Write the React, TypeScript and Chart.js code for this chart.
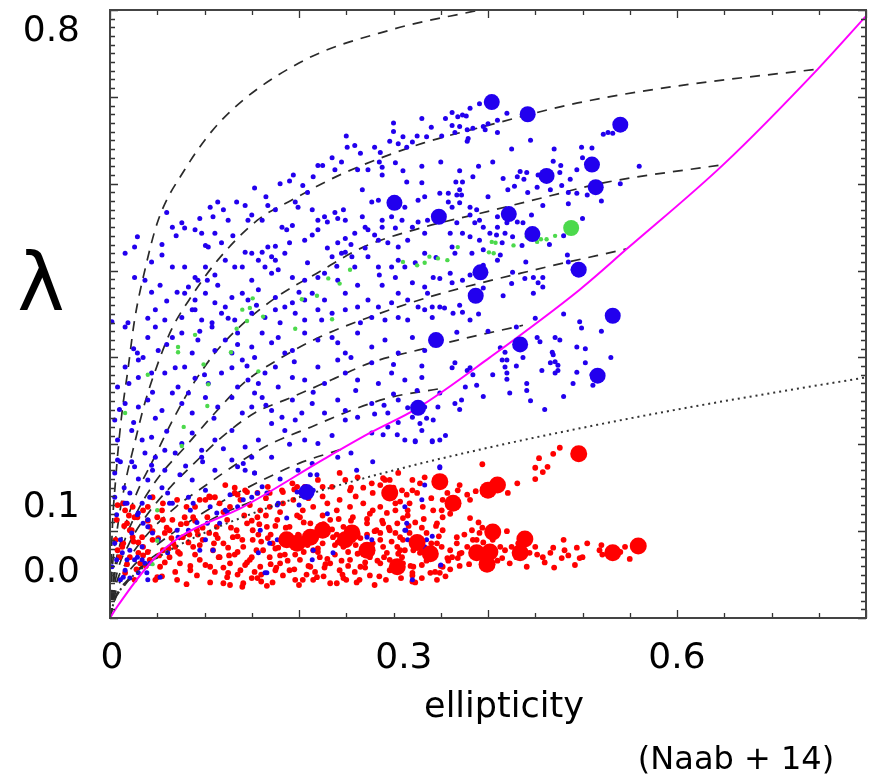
import React, { useEffect, useRef } from 'react';
import { Chart, registerables } from 'chart.js';

Chart.register(...registerables);

// ---------- axis labels (as printed on the figure) ----------
const xTickValues = [0.002, 0.311, 0.6];
const xTickLabels = ['0', '0.3', '0.6'];
const yTickValues = [0.052, 0.127, 0.675];
const yTickLabels = ['0.0', '0.1', '0.8'];
const xTitle = 'ellipticity';
const yTitle = 'λ';
const creditNote = '(Naab + 14)';

// ---------- scatter data: flat [ellipticity, lambda] pairs, in units of 0.001 ----------
const blueSmall = [
  259,544, 280,542, 296,549, 305,546, 310,554, 320,548, 325,555, 335,554, 286,536, 251,542, 314,542,
  220,521, 225,521, 238,516, 262,516, 273,516, 288,519, 302,524, 194,510, 190,503, 204,498, 267,493, 288,510, 314,502, 330,501,
  153,495, 209,490, 196,479, 199,473, 214,470, 238,467, 247,470, 249,458, 277,479, 284,481, 298,475, 312,473, 326,481, 333,485,
  114,479, 106,473, 134,479, 143,475, 150,464, 167,475, 175,470, 182,450, 220,458, 227,462, 241,460, 267,462, 270,450, 288,458,
  298,462, 309,458, 336,458, 60,467,
  66,450, 76,455, 79,449, 90,447, 97,443, 109,462, 111,443, 125,458, 146,458, 161,458, 187,447, 193,452, 220,447, 230,456,
  249,437, 259,443, 273,447, 280,441, 288,450, 302,449, 320,450, 326,456, 294,432, 305,427, 241,432, 101,429, 104,427, 118,432,
  29,439, 26,427, 55,418, 44,410, 143,421, 150,420, 161,421, 167,427, 175,428, 190,432, 206,435, 214,441, 230,426, 249,421,
  270,426, 284,435, 333,443,
  66,404, 79,404, 90,392, 101,404, 111,395, 122,412, 132,404, 140,404, 157,412, 171,416, 175,412, 164,404, 178,401, 193,392,
  209,409, 220,392, 227,397, 235,416, 245,420, 256,416, 259,404, 273,416, 284,404, 298,404, 305,412, 312,404, 323,409, 333,420,
  342,392, 53,383, 83,381, 93,389, 103,389, 114,383, 150,389, 171,397, 206,389, 241,389, 262,383, 288,383, 302,392, 320,386,
  333,381, 26,392, 37,389, 16,420,
  44,375, 71,375, 79,374, 90,366, 101,374, 111,363, 122,358, 129,369, 140,374, 146,366, 157,378, 175,369, 185,358, 193,363,
  206,366, 214,374, 227,366, 249,374, 262,358, 273,366, 284,358, 298,363, 305,374, 315,366, 326,358, 336,374, 19,340, 2,341,
  48,355, 58,343, 76,346, 87,355, 97,343, 108,340, 118,351, 132,343, 150,351, 164,346, 175,355, 196,351, 206,343, 224,343,
  235,351, 249,355, 277,346, 291,343, 305,346, 315,343, 333,355,
  48,335, 66,323, 76,328, 93,320, 108,335, 122,320, 135,328, 150,312, 161,328, 171,317, 178,323, 193,308, 206,328, 220,320,
  235,323, 249,305, 262,328, 277,312, 291,320, 305,305, 320,323, 333,308, 16,335, 29,305, 40,323, 51,308, 87,305, 111,308,
  129,305, 153,300, 185,305, 241,317,
  30,297, 44,282, 58,282, 69,288, 79,289, 90,276, 104,270, 118,282, 129,288, 140,297, 146,274, 164,282, 175,289, 193,277,
  206,274, 220,289, 241,297, 249,282, 262,274, 277,294, 298,282, 312,274, 330,277, 16,289, 8,266, 30,277, 72,266, 135,266,
  157,270, 178,266, 227,270, 284,270,
  16,247, 30,243, 40,251, 55,239, 66,259, 76,247, 87,236, 101,254, 114,243, 129,254, 140,236, 150,243, 161,254, 171,239,
  182,231, 193,251, 203,236, 214,247, 227,236, 241,251, 249,239, 262,231, 277,247, 294,236, 305,251, 320,231, 333,243,
  5,228, 48,230, 83,259, 153,259,
  8,205, 23,216, 34,205, 44,208, 58,193, 76,201, 87,213, 97,193, 111,205, 129,216, 143,197, 157,205, 171,224, 185,216,
  196,228, 206,205, 220,201, 249,228, 277,213, 294,220, 312,205, 330,216, 37,190,
  8,182, 26,174, 48,185, 58,170, 69,190, 87,159, 97,185, 111,170, 129,182, 135,174, 153,167, 171,185, 199,170, 214,178,
  241,185, 40,159, 5,167, 278,180, 349,174,
  5,139, 16,132, 30,121, 40,113, 66,132, 83,139, 101,147, 122,124, 135,128, 150,139, 161,151, 178,132, 312,128, 330,136,
  5,86, 13,75, 23,98, 34,82, 37,63, 51,90, 61,75, 72,93, 16,55, 30,52, 40,44, 26,67, 83,101, 101,90, 157,75, 164,52,
  214,67, 277,90, 312,101, 333,82, 320,44, 2,59, 11,44,
  362,582, 368,577, 373,579, 377,578, 381,587, 391,592, 362,567, 370,566, 378,562, 384,564, 395,566, 400,569, 410,573,
  420,581, 410,559, 379,552, 378,549, 365,559, 397,562, 351,555, 522,557, 527,559, 532,558, 499,542, 510,541,
  469,526, 477,521, 487,505, 494,516, 476,513, 453,510, 441,513, 434,514, 431,508, 416,506, 421,493, 428,497, 438,505,
  442,490, 452,496, 466,493, 485,490, 505,487, 494,489, 478,498,
  349,489, 358,489, 366,502, 367,487, 372,487, 358,479, 362,473, 370,478, 381,473, 388,470, 400,485, 410,462, 402,443,
  409,441, 418,443, 410,450, 420,455, 431,456, 437,455, 381,464, 386,455, 391,458, 395,450, 367,455, 360,443, 373,443,
  381,439, 391,435, 415,432, 426,439, 436,429, 446,464, 458,475, 485,477, 370,493, 373,502, 384,508,
  362,427, 365,420, 383,420, 395,424, 413,418, 410,412, 426,398, 439,391, 448,392, 453,386, 458,381, 395,406, 381,395,
  373,389, 360,397, 362,386, 349,391, 484,418, 485,410, 490,401, 458,392,
  370,360, 373,352, 363,351, 381,343, 383,369, 416,371, 448,374, 354,357, 349,358, 341,358, 341,346, 367,329, 365,294,
  362,288, 378,285, 381,288, 384,280, 388,268, 376,266, 349,259, 347,243, 365,247, 372,251, 413,311, 418,306, 415,297,
  420,297, 418,289, 420,282, 420,275, 423,259, 441,270, 441,262, 437,300, 452,323, 455,318, 457,285, 468,306, 469,303,
  471,295, 466,294, 474,291, 474,285, 471,282, 471,323, 476,320, 494,312, 503,310, 503,294, 494,283, 490,270, 511,268,
  497,341, 499,334, 342,228, 349,205, 341,204, 289,211, 304,211, 323,204, 315,242, 328,224,
  323,203, 341,203, 349,173, 333,153, 314,109, 313,101, 341,94, 335,90, 315,90, 350,61,
  11,180, 23,180, 44,176, 45,170, 74,165, 98,180, 143,170, 153,167, 141,178, 21,144, 34,132, 42,139, 61,144, 63,132,
  88,132, 85,124, 106,128, 113,121, 124,122, 127,142, 141,136, 156,144, 166,144, 177,130, 187,115, 198,145, 215,147,
  212,165, 219,165, 261,170, 18,132, 7,119, 29,119, 35,109, 40,105, 45,98, 71,101, 92,110, 103,109, 116,109, 159,101,
  177,90, 95,78, 109,78, 169,86, 215,78, 236,75, 247,92, 11,90, 21,78, 29,70, 34,67, 42,63, 39,52, 14,47, 21,46,
  53,47, 166,52, 272,93, 7,67, 18,67,
  235,530, 245,525, 215,508, 180,500, 165,485, 120,470, 95,460, 70,440, 55,430, 130,440, 185,420, 255,430, 315,435,
  345,415, 285,395, 240,405, 200,375, 155,360, 125,345, 95,330, 60,315, 35,300, 20,270, 45,260, 100,280, 145,290, 195,295,
  255,300, 300,292, 330,290, 265,340, 220,355, 180,340, 135,315, 90,355, 60,365, 40,345, 25,310, 10,240, 25,225, 60,215,
  110,230, 165,245, 215,260, 260,262, 300,258, 325,262, 290,245, 235,210, 190,200, 150,185, 120,195, 80,175, 55,150,
  30,160, 15,150, 180,160, 200,130, 230,120, 255,190, 280,235, 305,225, 335,230, 355,210, 370,240, 395,255, 405,280,
  430,290, 445,250, 460,240, 480,255, 510,280, 530,300, 520,330, 480,350, 450,345, 430,335, 400,330, 390,350, 395,380,
  425,385, 440,410, 465,430, 480,440, 500,460, 520,480, 540,500, 560,520, 500,530, 470,540, 445,550, 425,540, 405,525,
  390,520, 370,515, 350,525, 330,520, 310,515, 285,525, 265,535, 250,555, 300,560, 340,565, 355,575, 330,575, 300,570,
];

const redSmall = [
  394,177, 450,173, 463,174, 458,168, 454,184, 469,189, 476,196, 450,160, 431,155, 421,144, 370,153, 368,147, 378,142,
  387,146, 381,136, 357,144, 352,136, 351,124, 352,116, 328,155, 320,147, 314,142, 325,144, 289,161, 296,159, 286,153,
  309,147, 302,132, 302,124, 315,124, 310,115, 289,109, 286,98, 304,109, 323,110, 330,104, 352,101, 367,93, 383,101,
  394,104, 372,75, 368,69, 357,69, 352,59, 344,53, 330,61, 321,59, 346,86, 351,82, 360,78, 413,82, 418,78, 425,82,
  432,86, 444,75, 452,73, 458,70, 466,75, 469,81, 481,78, 494,81, 497,69, 492,61, 478,69, 441,59, 423,63, 415,69,
  518,78, 521,73, 545,82, 550,68, 529,73, 320,49, 323,41, 349,52, 370,60, 388,90, 391,98, 381,115, 286,90, 289,82,
  293,75, 296,67, 307,78, 309,70, 310,63, 328,75,
  122,153, 132,150, 145,145, 156,144, 169,144, 183,145, 198,151, 212,147, 225,151, 243,167, 254,147, 268,150, 278,144,
  45,139, 56,132, 71,136, 81,128, 95,136, 106,139, 116,132, 127,128, 138,136, 148,130, 159,124, 169,128, 183,132,
  194,136, 204,124, 215,128, 230,132, 243,136, 254,128, 268,132, 278,124, 35,124, 24,128, 14,132, 8,130,
  7,113, 18,109, 29,116, 42,105, 56,113, 63,101, 81,109, 92,101, 103,116, 113,105, 124,113, 134,101, 145,109, 156,116,
  166,105, 177,113, 190,105, 201,116, 212,109, 222,101, 233,113, 247,105, 257,116, 272,109, 282,101, 21,101, 50,116,
  88,116, 151,101,
  6,90, 14,86, 24,93, 35,82, 45,90, 56,78, 67,86, 77,93, 88,82, 98,90, 109,78, 120,86, 130,93, 141,82, 151,90, 162,78,
  172,86, 183,93, 194,82, 204,90, 215,78, 225,86, 236,93, 247,82, 257,90, 268,78, 278,86, 8,78, 30,87, 51,92, 72,76,
  93,96, 114,92, 135,76, 157,96, 178,81, 199,96, 220,76, 241,87, 262,96, 40,76, 83,87, 125,81, 167,92, 209,84, 252,76,
  21,70, 32,63, 42,67, 53,59, 63,70, 74,63, 85,55, 95,67, 106,59, 116,70, 127,63, 138,55, 148,67, 159,59, 169,70,
  180,63, 190,55, 201,67, 212,59, 222,70, 233,63, 243,55, 254,67, 265,59, 275,70, 69,53, 90,73, 111,53, 132,73, 153,53,
  175,55, 196,73, 217,53, 238,73, 259,53, 58,64, 101,61, 143,61, 185,73, 227,58, 270,64,
  50,47, 71,44, 92,49, 106,41, 124,47, 141,40, 156,46, 172,41, 183,49, 204,44, 219,47, 233,40, 247,46, 261,41, 275,49,
  127,38, 166,37, 81,39,
  16,124, 26,116, 40,128, 23,101, 34,93, 13,82, 30,75, 16,52, 26,44, 48,44, 55,124, 66,113, 58,98, 69,82, 79,116,
  90,128, 101,136, 111,139, 132,144, 143,147, 167,151, 182,147, 193,155, 206,151, 220,159, 235,151, 249,159, 262,162,
  277,155, 291,159, 305,167, 320,159, 333,162,
  286,128, 293,121, 299,139, 307,134, 317,132, 331,128, 342,124, 296,101, 307,93, 317,98, 335,98, 346,109, 304,82,
  321,78, 367,86, 378,82, 384,90, 395,87, 405,90, 286,63, 296,55, 307,55, 339,52,
  160,50, 170,62, 180,72, 190,88, 200,95, 210,60, 220,80, 230,68, 240,96, 250,44, 260,84, 270,58, 280,100, 290,70,
  300,64, 310,90, 320,52, 330,78, 340,86, 350,60, 165,118, 175,106, 185,96, 195,56, 205,110, 215,44, 225,118, 235,102,
  245,66, 255,112, 265,92, 275,120, 285,48, 295,104, 305,74, 315,118, 325,88, 335,66, 345,106, 355,48, 155,78, 145,64,
  135,94, 125,52, 115,70, 105,98, 95,84, 85,60, 75,108, 65,92, 55,48, 45,100, 35,72, 25,88, 15,106, 120,40, 140,36,
  160,42, 200,38, 240,40, 280,38, 320,42, 360,56, 370,74, 380,62, 390,110, 410,66, 420,100, 440,76, 460,64, 480,90,
  500,70, 520,84, 540,76, 105,140, 135,142, 165,138, 195,148, 225,140, 255,150,
  150,70, 175,80, 188,66, 205,76, 218,92, 228,62, 238,84, 252,60, 262,74, 272,96, 283,66, 298,88, 312,78, 318,60,
  336,72, 348,94, 358,66, 186,104, 198,118, 212,96, 226,108, 242,114, 258,100, 272,114, 288,112, 302,98, 316,106,
  332,114, 170,96, 158,108, 142,118, 128,104, 112,96, 98,104, 84,96, 74,74, 62,80, 52,72, 38,60, 28,56, 18,62, 10,70,
  120,58, 135,50, 150,46, 110,86, 126,72, 140,90, 160,88, 176,58, 196,44, 208,50, 226,48, 246,50, 264,44, 292,44, 308,46,
  330,46, 346,44, 362,70, 375,96, 400,78, 430,70, 450,82, 470,58, 485,72, 505,86, 360,120, 340,138, 300,150, 260,140,
  240,124, 210,138, 180,122, 150,112, 120,122, 90,112, 60,104, 40,112, 20,118,
];

const greenSmall = [
  310,410, 325,406, 333,409, 338,416, 347,414, 357,412, 368,427, 401,421, 404,433, 408,432, 406,420, 427,429, 441,439,
  452,433, 456,436, 462,436, 471,440, 254,401, 231,391, 243,385, 219,371, 203,367, 196,333, 235,344, 162,347, 148,357,
  140,355, 145,342, 134,333, 151,368, 90,326, 72,312, 72,306, 128,306, 99,292, 157,284, 104,269, 103,244, 78,220,
  76,198, 40,280, 16,236, 50,124, 50,89, 45,62,
];

const blueBig = [
  404,594, 442,580, 540,568, 510,522, 462,509, 514,496, 301,478, 348,462, 422,465, 447,442, 392,398, 496,401, 387,371,
  532,348, 345,320, 434,315, 516,279, 326,242, 208,145,
];
const greenBig = [488,449];
const redBig = [
  496,189, 349,157, 296,144, 400,147, 410,153, 363,132, 405,99, 439,91, 325,87, 339,74, 388,75, 402,76, 434,75, 399,62,
  304,59, 532,75, 559,83, 187,90, 225,101, 256,98, 249,90, 272,78, 198,86, 212,93,
];

// ---------- model curves: [ellipticity, lambda] ----------
const edgeOnLine = [
  [0, 0], [0.0074, 0.0127], [0.0455, 0.0668], [0.074, 0.0933], [0.141, 0.128], [0.225, 0.182], [0.275, 0.213],
  [0.326, 0.242], [0.402, 0.3], [0.497, 0.378], [0.547, 0.425], [0.649, 0.522], [0.749, 0.632], [0.8, 0.693],
];
const slowFastLine = [
  [0, 0], [0.005, 0.022], [0.01, 0.031], [0.02, 0.044], [0.04, 0.062], [0.07, 0.082], [0.1, 0.098], [0.15, 0.12],
  [0.2, 0.139], [0.3, 0.17], [0.4, 0.196], [0.5, 0.219], [0.6, 0.24], [0.7, 0.259], [0.8, 0.277],
];
const curveA = [
  [0, 0], [0.002, 0.09], [0.006, 0.16], [0.012, 0.23], [0.019, 0.286], [0.026, 0.343], [0.037, 0.401], [0.051, 0.458],
  [0.079, 0.516], [0.118, 0.573], [0.2, 0.639], [0.3, 0.678], [0.391, 0.7],
];
const curveB = [
  [0, 0], [0.002, 0.05], [0.008, 0.105], [0.016, 0.155], [0.026, 0.201], [0.037, 0.248], [0.051, 0.294], [0.065, 0.332],
  [0.086, 0.37], [0.114, 0.412], [0.156, 0.458], [0.192, 0.481], [0.247, 0.512], [0.332, 0.547], [0.389, 0.564],
  [0.495, 0.593], [0.597, 0.612], [0.749, 0.632],
];
const curveC = [
  [0, 0], [0.004, 0.05], [0.012, 0.09], [0.025, 0.135], [0.047, 0.185], [0.065, 0.225], [0.086, 0.266], [0.111, 0.305],
  [0.142, 0.34], [0.177, 0.37], [0.219, 0.397], [0.268, 0.427], [0.332, 0.45], [0.392, 0.466], [0.462, 0.485],
  [0.522, 0.501], [0.649, 0.522],
];
const curveD = [
  [0, 0], [0.005, 0.05], [0.015, 0.088], [0.03, 0.125], [0.05, 0.16], [0.082, 0.2], [0.111, 0.236], [0.142, 0.271],
  [0.177, 0.297], [0.223, 0.324], [0.276, 0.347], [0.339, 0.37], [0.45, 0.401], [0.547, 0.425],
];
const curveE = [
  [0, 0], [0.006, 0.045], [0.02, 0.085], [0.04, 0.12], [0.065, 0.152], [0.089, 0.178], [0.118, 0.208], [0.153, 0.236],
  [0.192, 0.254], [0.234, 0.274], [0.276, 0.294], [0.328, 0.309], [0.368, 0.32], [0.437, 0.337],
];
const curveF = [
  [0, 0], [0.006, 0.037], [0.02, 0.068], [0.04, 0.097], [0.07, 0.128], [0.103, 0.154], [0.135, 0.178], [0.171, 0.201],
  [0.213, 0.22], [0.255, 0.239], [0.297, 0.254], [0.349, 0.264],
];
const curveG = [
  [0, 0], [0.006, 0.03], [0.02, 0.054], [0.045, 0.08], [0.08, 0.108], [0.12, 0.135], [0.16, 0.158], [0.2, 0.178],
  [0.25, 0.196],
];
const curveH = [
  [0, 0], [0.005, 0.022], [0.02, 0.045], [0.045, 0.07], [0.08, 0.095], [0.115, 0.118], [0.15, 0.134],
];
const curveI = [[0, 0], [0.004, 0.018], [0.015, 0.037], [0.03, 0.055], [0.05, 0.07]];

const inclinationCurves = [curveA, curveB, curveC, curveD, curveE, curveF, curveG, curveH, curveI];

// ---------- helpers ----------
const FONT = '"DejaVu Sans", sans-serif';
const BLUE = '#2200ee';
const RED = '#ff0000';
const GREEN = '#4cd94c';

function fromThousandths(flat: number[]) {
  const out: { x: number; y: number }[] = [];
  for (let i = 0; i + 1 < flat.length; i += 2) out.push({ x: flat[i] / 1000, y: flat[i + 1] / 1000 });
  return out;
}
function fromPairs(pts: number[][]) {
  return pts.map(([x, y]) => ({ x, y }));
}

const framePlugin = {
  id: 'frameAndNotes',
  afterDatasetsDraw(chart: any) {
    const { ctx, chartArea: a, scales } = chart;
    const xs = scales.x;
    const ys = scales.y;
    ctx.save();
    ctx.strokeStyle = '#333';
    ctx.lineWidth = 1.3;
    ctx.beginPath();
    for (let i = 0; i <= 16; i++) {
      const px = Math.round(xs.getPixelForValue(i * 0.05)) + 0.5;
      const len = i % 4 === 0 ? 8 : 5;
      ctx.moveTo(px, a.bottom);
      ctx.lineTo(px, a.bottom - len);
      ctx.moveTo(px, a.top);
      ctx.lineTo(px, a.top + len);
    }
    for (let i = 0; i <= 70; i++) {
      const py = Math.round(ys.getPixelForValue(i * 0.01)) + 0.5;
      const len = i % 10 === 0 ? 8 : 5;
      ctx.moveTo(a.left, py);
      ctx.lineTo(a.left + len, py);
      ctx.moveTo(a.right, py);
      ctx.lineTo(a.right - len, py);
    }
    ctx.stroke();
    ctx.lineWidth = 2;
    ctx.strokeStyle = '#444';
    ctx.strokeRect(a.left, a.top, a.right - a.left, a.bottom - a.top);

    ctx.fillStyle = '#000';
    ctx.textAlign = 'center';
    ctx.textBaseline = 'alphabetic';
    ctx.font = `80px ${FONT}`;
    ctx.fillText(yTitle, 41, 310);
    ctx.font = `35px ${FONT}`;
    ctx.fillText(xTitle, 504, 717);
    ctx.font = `32px ${FONT}`;
    ctx.fillText(creditNote, 736, 769);
    ctx.restore();
  },
};

export default function App() {
  const ref = useRef<HTMLCanvasElement | null>(null);

  useEffect(() => {
    if (!ref.current) return;
    const lineBase = { showLine: true, pointRadius: 0, fill: false, cubicInterpolationMode: 'monotone' as const };
    const datasets: any[] = [
      { label: 'blue big', data: fromThousandths(blueBig), pointRadius: 8, backgroundColor: BLUE, borderWidth: 0, order: 0 },
      { label: 'green big', data: fromThousandths(greenBig), pointRadius: 8, backgroundColor: GREEN, borderWidth: 0, order: 0 },
      { label: 'red big', data: fromThousandths(redBig), pointRadius: 8.5, backgroundColor: RED, borderWidth: 0, order: 0 },
      { label: 'edge-on', data: fromPairs(edgeOnLine), ...lineBase, borderColor: '#ff00ff', borderWidth: 2, order: 1 },
      { label: 'slow/fast', data: fromPairs(slowFastLine), ...lineBase, borderColor: '#333', borderWidth: 2, borderDash: [2, 4], order: 1 },
      { label: 'green', data: fromThousandths(greenSmall), pointRadius: 2.2, backgroundColor: GREEN, borderWidth: 0, order: 2 },
      { label: 'blue', data: fromThousandths(blueSmall), pointRadius: 2.5, backgroundColor: BLUE, borderWidth: 0, order: 3 },
      { label: 'red', data: fromThousandths(redSmall), pointRadius: 2.9, backgroundColor: RED, borderWidth: 0, order: 4 },
      ...inclinationCurves.map((c, i) => ({
        label: 'incl ' + i,
        data: fromPairs(c),
        ...lineBase,
        borderColor: '#2a2a2a',
        borderWidth: 1.7,
        borderDash: [10, 8],
        order: 5,
      })),
    ];

    const chart = new Chart(ref.current, {
      type: 'scatter',
      data: { datasets },
      plugins: [framePlugin],
      options: {
        animation: false,
        responsive: false,
        devicePixelRatio: 1,
        events: [],
        layout: { padding: { left: 0, right: 6, top: 10, bottom: 0 }, autoPadding: false },
        plugins: { legend: { display: false }, tooltip: { enabled: false } },
        scales: {
          x: {
            type: 'linear',
            min: 0,
            max: 0.8,
            grid: { display: false, drawTicks: false, tickLength: 0 },
            border: { display: false },
            afterBuildTicks: (s: any) => {
              s.ticks = xTickValues.map((v) => ({ value: v }));
            },
            afterFit: (s: any) => {
              s.height = 158;
              s.paddingLeft = 0;
              s.paddingRight = 0;
              s.paddingTop = 0;
              s.paddingBottom = 0;
            },
            ticks: {
              autoSkip: false,
              maxRotation: 0,
              padding: 19,
              color: '#000',
              font: { family: FONT, size: 36 },
              callback: (_v: any, i: number) => xTickLabels[i],
            },
          },
          y: {
            type: 'linear',
            min: 0,
            max: 0.7,
            grid: { display: false, drawTicks: false, tickLength: 0 },
            border: { display: false },
            afterBuildTicks: (s: any) => {
              s.ticks = yTickValues.map((v) => ({ value: v }));
            },
            afterFit: (s: any) => {
              s.width = 110;
              s.paddingLeft = 0;
              s.paddingRight = 0;
              s.paddingTop = 0;
              s.paddingBottom = 0;
            },
            ticks: {
              autoSkip: false,
              padding: 30,
              color: '#000',
              font: { family: FONT, size: 36 },
              callback: (_v: any, i: number) => yTickLabels[i],
            },
          },
        },
      },
    });
    return () => chart.destroy();
  }, []);

  return (
    <div style={{ position: 'absolute', left: 0, top: 0, width: 872, height: 776, background: '#fff' }}>
      <canvas ref={ref} width={872} height={776} style={{ display: 'block', width: 872, height: 776 }} />
    </div>
  );
}
